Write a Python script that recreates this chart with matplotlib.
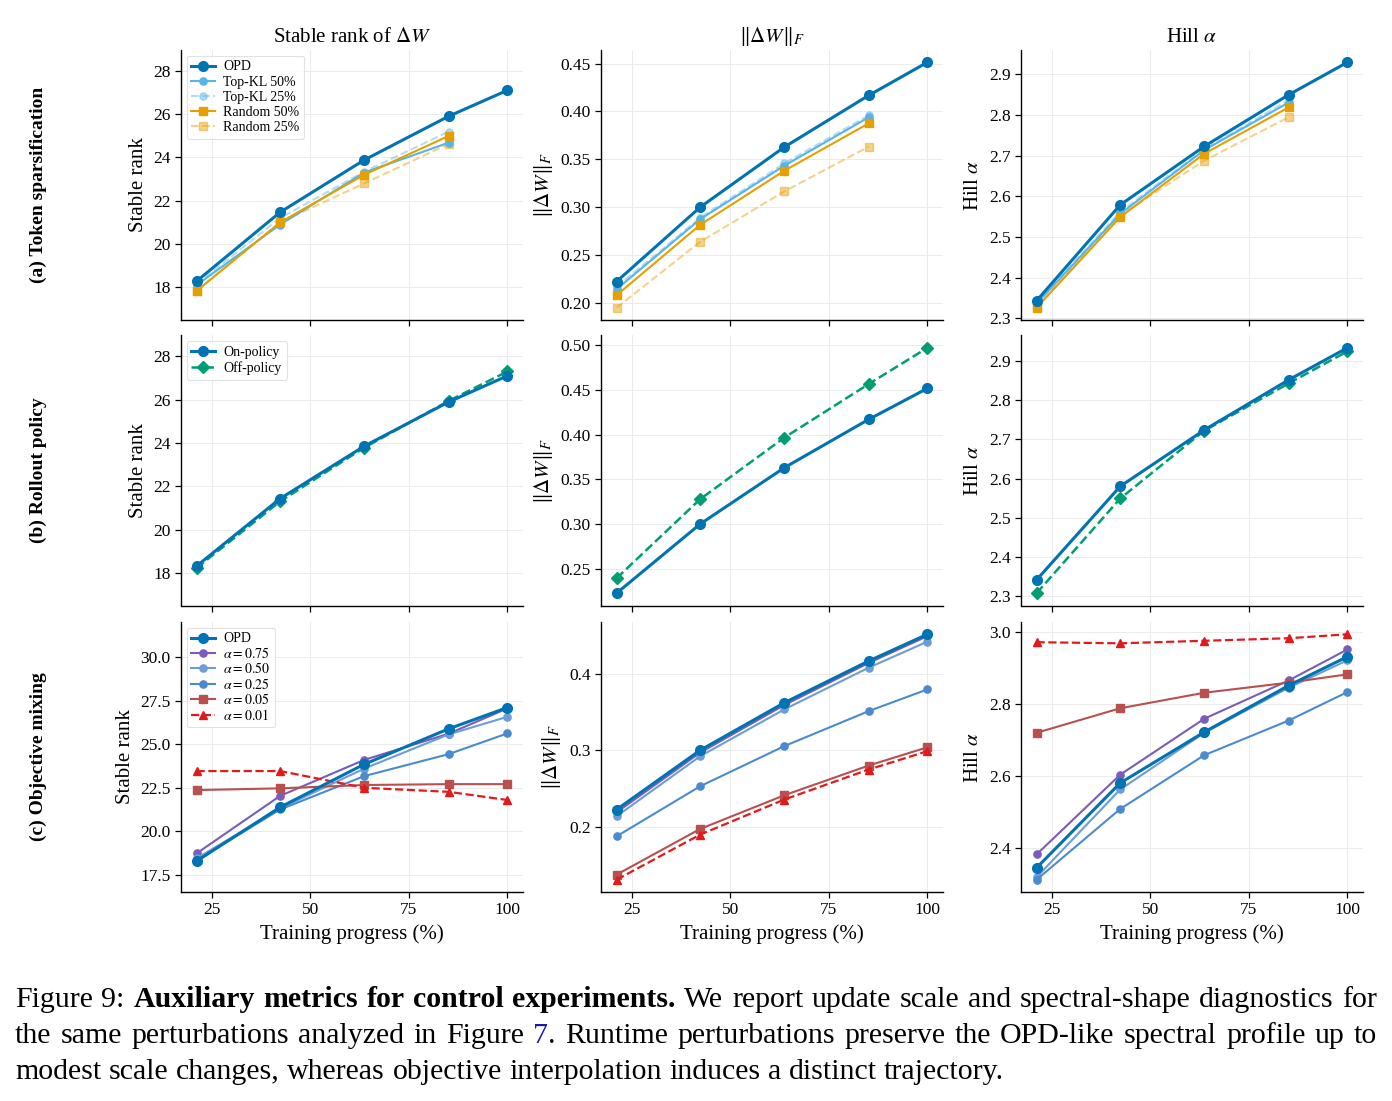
import matplotlib
matplotlib.use("Agg")
import matplotlib.pyplot as plt
from matplotlib.ticker import MaxNLocator

plt.rcParams['font.family'] = ['Liberation Serif', 'DejaVu Serif']
plt.rcParams['mathtext.fontset'] = 'stix'

# ---------------- data ----------------
x = [21.2, 42.4, 63.7, 85.1, 100]
x4 = x[:4]
xticks = [25, 50, 75, 100]

# (a) token sparsification
sr_opd = [18.28, 21.47, 23.88, 25.90, 27.10]
sr_tk50 = [18.10, 20.90, 23.30, 24.68]
sr_tk25 = [18.15, 21.20, 23.34, 25.19]
sr_r50 = [17.83, 21.00, 23.20, 24.99]
sr_r25 = [17.85, 21.00, 22.80, 24.62]

fn_opd = [0.2223, 0.3000, 0.3627, 0.4167, 0.4513]
fn_tk50 = [0.2143, 0.2875, 0.3433, 0.3938]
fn_tk25 = [0.2167, 0.2890, 0.3457, 0.3960]
fn_r50 = [0.2080, 0.2816, 0.3380, 0.3875]
fn_r25 = [0.1950, 0.2638, 0.3164, 0.3632]

hill_opd = [2.343, 2.579, 2.723, 2.850, 2.930]
hill_tk50 = [2.336, 2.557, 2.714, 2.831]
hill_tk25 = [2.338, 2.562, 2.716, 2.837]
hill_r50 = [2.326, 2.549, 2.705, 2.819]
hill_r25 = [2.328, 2.553, 2.688, 2.795]

# (b) rollout policy
sr_on = [18.31, 21.43, 23.85, 25.89, 27.10]
sr_off = [18.22, 21.30, 23.78, 25.94, 27.30]
fn_on = [0.2229, 0.3002, 0.3630, 0.4170, 0.4517]
fn_off = [0.2396, 0.3280, 0.3966, 0.4565, 0.4970]
hill_on = [2.341, 2.580, 2.724, 2.852, 2.934]
hill_off = [2.307, 2.549, 2.722, 2.843, 2.925]

# (c) objective mixing
sr_c_opd = [18.30, 21.39, 23.85, 25.88, 27.10]
sr_c_a075 = [18.74, 22.04, 24.10, 25.60, 27.05]
sr_c_a050 = [18.45, 21.32, 23.60, 25.56, 26.57]
sr_c_a025 = [18.35, 21.26, 23.17, 24.43, 25.62]
sr_c_a005 = [22.37, 22.47, 22.66, 22.71, 22.71]
sr_c_a001 = [23.46, 23.46, 22.50, 22.27, 21.80]

fn_c_opd = [0.2226, 0.3001, 0.3620, 0.4165, 0.4514]
fn_c_a075 = [0.2190, 0.2970, 0.3590, 0.4140, 0.4490]
fn_c_a050 = [0.2139, 0.2923, 0.3533, 0.4078, 0.4418]
fn_c_a025 = [0.1877, 0.2531, 0.3054, 0.3511, 0.3795]
fn_c_a005 = [0.1377, 0.1974, 0.2413, 0.2801, 0.3040]
fn_c_a001 = [0.1311, 0.1900, 0.2357, 0.2749, 0.2988]

hill_c_opd = [2.346, 2.581, 2.722, 2.851, 2.931]
hill_c_a075 = [2.383, 2.604, 2.759, 2.865, 2.951]
hill_c_a050 = [2.320, 2.563, 2.720, 2.845, 2.921]
hill_c_a025 = [2.313, 2.509, 2.658, 2.754, 2.833]
hill_c_a005 = [2.720, 2.788, 2.831, 2.859, 2.882]
hill_c_a001 = [2.971, 2.968, 2.975, 2.982, 2.993]

col_titles = [r"Stable rank of $\Delta W$", r"$\|\Delta W\|_F$", r"Hill $\alpha$"]
ylabels = ["Stable rank", r"$\|\Delta W\|_F$", r"Hill $\alpha$"]
row_labels = ["(a) Token sparsification", "(b) Rollout policy", "(c) Objective mixing"]
xlabel = "Training progress (%)"
sr_ylims = [(16.49, 28.96), (16.49, 28.96), (16.53, 32.0)]
sr_yticks = [[18, 20, 22, 24, 26, 28], [18, 20, 22, 24, 26, 28],
             [17.5, 20.0, 22.5, 25.0, 27.5, 30.0]]

# ---------------- styles ----------------
C_OPD = '#0173b2'
C_TK = '#56b4e9'
C_RD = '#e69f00'
C_OFF = '#029e73'
C_75 = '#7b5cb8'
C_50 = '#6e9dd6'
C_25 = '#4a8bcf'
C_05 = '#b8504f'
C_01 = '#e31a1c'

W, H = 1392, 1101
fig = plt.figure(figsize=(W / 100, H / 100), dpi=100)

col_left = [181, 601, 1021]
ax_w = 342
row_top = [50, 335.5, 622]
ax_h = 270

axes = []
for r in range(3):
    row = []
    for c in range(3):
        ax = fig.add_axes([col_left[c] / W, 1 - (row_top[r] + ax_h) / H, ax_w / W, ax_h / H])
        row.append(ax)
    axes.append(row)

big = dict(lw=2.2, ms=7, marker='o', zorder=4)
sm = dict(lw=1.5, ms=5.2)

# Row (a)
series_a = [
    (sr_opd, sr_tk50, sr_tk25, sr_r50, sr_r25),
    (fn_opd, fn_tk50, fn_tk25, fn_r50, fn_r25),
    (hill_opd, hill_tk50, hill_tk25, hill_r50, hill_r25),
]
for c, (opd, tk50, tk25, r50, r25) in enumerate(series_a):
    ax = axes[0][c]
    ax.plot(x, opd, color=C_OPD, label='OPD', **big)
    ax.plot(x4, tk50, color=C_TK, marker='o', label='Top-KL 50%', zorder=3, **sm)
    ax.plot(x4, tk25, color=C_TK, marker='o', ls='--', alpha=0.45, label='Top-KL 25%', zorder=2, **sm)
    ax.plot(x4, r50, color=C_RD, marker='s', label='Random 50%', zorder=3, **sm)
    ax.plot(x4, r25, color=C_RD, marker='s', ls='--', alpha=0.45, label='Random 25%', zorder=2, **sm)

# Row (b)
series_b = [(sr_on, sr_off), (fn_on, fn_off), (hill_on, hill_off)]
for c, (on, off) in enumerate(series_b):
    ax = axes[1][c]
    ax.plot(x, on, color=C_OPD, label='On-policy', **big)
    ax.plot(x, off, color=C_OFF, marker='D', ls='--', lw=1.8, ms=6, label='Off-policy', zorder=3)

# Row (c)
series_c = [
    (sr_c_opd, sr_c_a075, sr_c_a050, sr_c_a025, sr_c_a005, sr_c_a001),
    (fn_c_opd, fn_c_a075, fn_c_a050, fn_c_a025, fn_c_a005, fn_c_a001),
    (hill_c_opd, hill_c_a075, hill_c_a050, hill_c_a025, hill_c_a005, hill_c_a001),
]
for c, (opd, a75, a50, a25, a05, a01) in enumerate(series_c):
    ax = axes[2][c]
    ax.plot(x, opd, color=C_OPD, label='OPD', **big)
    ax.plot(x, a75, color=C_75, marker='o', label=r'$\alpha=0.75$', zorder=3, **sm)
    ax.plot(x, a50, color=C_50, marker='o', label=r'$\alpha=0.50$', zorder=3, **sm)
    ax.plot(x, a25, color=C_25, marker='o', label=r'$\alpha=0.25$', zorder=3, **sm)
    ax.plot(x, a05, color=C_05, marker='s', label=r'$\alpha=0.05$', zorder=3, **sm)
    ax.plot(x, a01, color=C_01, marker='^', ls='--', lw=1.6, ms=6, label=r'$\alpha=0.01$', zorder=3)

leg_spacing = [0.15, 0.15, 0.03]
for r in range(3):
    for c in range(3):
        ax = axes[r][c]
        ax.spines['top'].set_visible(False)
        ax.spines['right'].set_visible(False)
        for s in ('left', 'bottom'):
            ax.spines[s].set_linewidth(1.0)
        ax.grid(True, color='#ebebeb', lw=0.7)
        ax.set_axisbelow(True)
        ax.set_xticks(xticks)
        ax.yaxis.set_major_locator(MaxNLocator(nbins=7, steps=[1, 2, 2.5, 5, 10]))
        ax.tick_params(labelsize=12.5, length=4, width=0.9, direction='out')
        ax.set_ylabel(ylabels[c], fontsize=15)
        if r < 2:
            ax.tick_params(labelbottom=False)
        else:
            ax.set_xlabel(xlabel, fontsize=15)
        if r == 0:
            ax.set_title(col_titles[c], fontsize=15, pad=6)
    axes[r][0].set_ylim(*sr_ylims[r])
    axes[r][0].set_yticks(sr_yticks[r])
    if r == 2:
        axes[r][0].set_yticklabels([f"{v:.1f}" for v in sr_yticks[r]])
    leg = axes[r][0].legend(loc='upper left', fontsize=10, frameon=True, framealpha=0.85,
                            edgecolor='#dddddd', handlelength=1.7, borderpad=0.35,
                            labelspacing=leg_spacing[r], handletextpad=0.6, borderaxespad=0.4)
    leg.get_frame().set_linewidth(0.8)

for r, lab in enumerate(row_labels):
    yc = row_top[r] + ax_h / 2
    fig.text(38 / W, 1 - yc / H, lab, rotation=90, ha='center', va='center',
             fontsize=14, fontweight='bold')

# ---------------- caption (justified) ----------------
cap_fs = 21.5
fig.canvas.draw()
renderer = fig.canvas.get_renderer()

def measure(s, weight):
    t = fig.text(0, 0, s, fontsize=cap_fs, fontweight=weight)
    w = t.get_window_extent(renderer).width
    t.remove()
    return w

K = '#000000'
B = '#1a1aa6'
line1 = [[("Figure", 'normal', K)], [("9:", 'normal', K)]] + \
        [[(w, 'bold', K)] for w in "Auxiliary metrics for control experiments.".split()] + \
        [[(w, 'normal', K)] for w in "We report update scale and spectral-shape diagnostics for".split()]
line2 = [[(w, 'normal', K)] for w in "the same perturbations analyzed in Figure".split()] + \
        [[("7", 'normal', B), (".", 'normal', K)]] + \
        [[(w, 'normal', K)] for w in "Runtime perturbations preserve the OPD-like spectral profile up to".split()]
line3 = [[(w, 'normal', K)] for w in
         "modest scale changes, whereas objective interpolation induces a distinct trajectory.".split()]

cap_left, cap_right = 15, 1377
baselines = [1007, 1043, 1079]
space_w = measure("a b", 'normal') - measure("ab", 'normal')

for li, (line, justify) in enumerate([(line1, True), (line2, True), (line3, False)]):
    widths = []
    for word in line:
        widths.append([measure(p[0], p[1]) for p in word])
    total = sum(sum(w) for w in widths)
    if justify:
        gap = (cap_right - cap_left - total) / (len(line) - 1)
    else:
        gap = space_w
    xp = cap_left
    yb = 1 - baselines[li] / H
    for word, ws in zip(line, widths):
        for (txt, wt, col), w in zip(word, ws):
            fig.text(xp / W, yb, txt, fontsize=cap_fs, fontweight=wt, color=col,
                     ha='left', va='baseline')
            xp += w
        xp += gap

fig.savefig('out.png', dpi=100, facecolor='white')
